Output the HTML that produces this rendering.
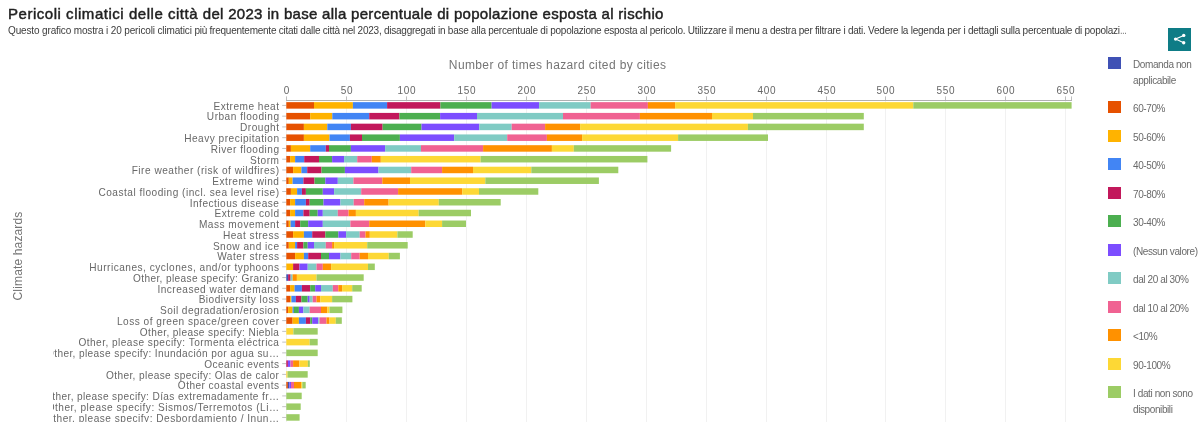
<!DOCTYPE html>
<html lang="it"><head><meta charset="utf-8"><title>Pericoli climatici delle città del 2023</title>
<style>
html,body{margin:0;padding:0;background:#fff;}
body{width:1200px;height:422px;position:relative;overflow:hidden;font-family:"Liberation Sans",sans-serif;}
h1{position:absolute;left:8px;top:5.3px;margin:0;font-size:15px;line-height:18px;font-weight:normal;color:#212121;-webkit-text-stroke:0.45px #212121;white-space:nowrap;letter-spacing:0.295px;}
p.sub{position:absolute;left:8px;top:24.5px;margin:0;font-size:10px;line-height:12px;color:#3c3c3c;white-space:nowrap;letter-spacing:-0.244px;}
.share{position:absolute;left:1168.2px;top:28px;width:23px;height:23px;background:#0e7c86;}
.share svg{position:absolute;left:0;top:0;}
svg.chart{position:absolute;left:0;top:0;}
svg.chart text{font-family:"Liberation Sans",sans-serif;}
.tk text{font-size:10px;fill:#666;letter-spacing:0.7px;}
.at{font-size:12px;fill:#757575;letter-spacing:0.37px;}
.yl text{font-size:10.1px;fill:#686868;letter-spacing:0.5px;}
.legend{position:absolute;left:0;top:0;}
.li{position:absolute;left:1108px;width:92px;}
.sw{position:absolute;left:0;top:0;width:13px;height:12px;}
.lt{position:absolute;left:25px;top:-0.2px;font-size:10px;line-height:16px;color:#6a6a6a;white-space:nowrap;letter-spacing:-0.4px;}
</style></head><body>
<h1><span style="letter-spacing:0.53px">Pericoli climatici delle città </span>del 2023 in base alla percentuale di popolazione esposta al rischio</h1>
<p class="sub"><span style="letter-spacing:-0.14px">Questo grafico mostra i 20 pericoli climatici </span>più frequentemente citati dalle città nel 2023, disaggregati in base alla percentuale di popolazione esposta al pericolo. Utilizzare il menu a destra per filtrare i dati. Vedere la legenda per i dettagli sulla percentuale di popolazi<span style="display:inline-block;transform:scaleX(0.65);transform-origin:0 50%">…</span></p>
<svg class="chart" width="1200" height="422" viewBox="0 0 1200 422">
<defs><clipPath id="lc"><rect x="53" y="96" width="240" height="326"/></clipPath></defs>
<g stroke="#f1f1f1" stroke-width="1">
<line x1="286.5" y1="100.5" x2="286.5" y2="422"/>
<line x1="346.5" y1="100.5" x2="346.5" y2="422"/>
<line x1="406.5" y1="100.5" x2="406.5" y2="422"/>
<line x1="466.5" y1="100.5" x2="466.5" y2="422"/>
<line x1="526.5" y1="100.5" x2="526.5" y2="422"/>
<line x1="586.5" y1="100.5" x2="586.5" y2="422"/>
<line x1="646.5" y1="100.5" x2="646.5" y2="422"/>
<line x1="706.5" y1="100.5" x2="706.5" y2="422"/>
<line x1="766.5" y1="100.5" x2="766.5" y2="422"/>
<line x1="826.5" y1="100.5" x2="826.5" y2="422"/>
<line x1="885.5" y1="100.5" x2="885.5" y2="422"/>
<line x1="945.5" y1="100.5" x2="945.5" y2="422"/>
<line x1="1005.5" y1="100.5" x2="1005.5" y2="422"/>
<line x1="1065.5" y1="100.5" x2="1065.5" y2="422"/>
</g>
<g stroke="#b0b0b0" stroke-width="1">
<line x1="286" y1="100.5" x2="1072" y2="100.5"/>
<line x1="286.5" y1="96.4" x2="286.5" y2="100" stroke="#bdbdbd"/>
<line x1="346.5" y1="96.4" x2="346.5" y2="100" stroke="#bdbdbd"/>
<line x1="406.5" y1="96.4" x2="406.5" y2="100" stroke="#bdbdbd"/>
<line x1="466.5" y1="96.4" x2="466.5" y2="100" stroke="#bdbdbd"/>
<line x1="526.5" y1="96.4" x2="526.5" y2="100" stroke="#bdbdbd"/>
<line x1="586.5" y1="96.4" x2="586.5" y2="100" stroke="#bdbdbd"/>
<line x1="646.5" y1="96.4" x2="646.5" y2="100" stroke="#bdbdbd"/>
<line x1="706.5" y1="96.4" x2="706.5" y2="100" stroke="#bdbdbd"/>
<line x1="766.5" y1="96.4" x2="766.5" y2="100" stroke="#bdbdbd"/>
<line x1="826.5" y1="96.4" x2="826.5" y2="100" stroke="#bdbdbd"/>
<line x1="885.5" y1="96.4" x2="885.5" y2="100" stroke="#bdbdbd"/>
<line x1="945.5" y1="96.4" x2="945.5" y2="100" stroke="#bdbdbd"/>
<line x1="1005.5" y1="96.4" x2="1005.5" y2="100" stroke="#bdbdbd"/>
<line x1="1065.5" y1="96.4" x2="1065.5" y2="100" stroke="#bdbdbd"/>
<line x1="1071.5" y1="96.4" x2="1071.5" y2="100" stroke="#bdbdbd"/>
</g>
<g class="tk" text-anchor="middle">
<text x="286.9" y="93.6">0</text>
<text x="346.9" y="93.6">50</text>
<text x="406.9" y="93.6">100</text>
<text x="466.9" y="93.6">150</text>
<text x="526.9" y="93.6">200</text>
<text x="586.9" y="93.6">250</text>
<text x="646.9" y="93.6">300</text>
<text x="706.9" y="93.6">350</text>
<text x="766.9" y="93.6">400</text>
<text x="826.9" y="93.6">450</text>
<text x="885.9" y="93.6">500</text>
<text x="945.9" y="93.6">550</text>
<text x="1005.9" y="93.6">600</text>
<text x="1065.8" y="93.6">650</text>
</g>
<text class="at" x="557.6" y="69" text-anchor="middle">Number of times hazard cited by cities</text>
<text class="at" style="letter-spacing:0.15px" transform="translate(22,256) rotate(-90)" text-anchor="middle">Climate hazards</text>
<g stroke="#c2c2c2" stroke-width="1">
<line x1="282.2" y1="105.40" x2="286.3" y2="105.40"/>
<line x1="282.2" y1="116.16" x2="286.3" y2="116.16"/>
<line x1="282.2" y1="126.92" x2="286.3" y2="126.92"/>
<line x1="282.2" y1="137.68" x2="286.3" y2="137.68"/>
<line x1="282.2" y1="148.44" x2="286.3" y2="148.44"/>
<line x1="282.2" y1="159.20" x2="286.3" y2="159.20"/>
<line x1="282.2" y1="169.96" x2="286.3" y2="169.96"/>
<line x1="282.2" y1="180.72" x2="286.3" y2="180.72"/>
<line x1="282.2" y1="191.48" x2="286.3" y2="191.48"/>
<line x1="282.2" y1="202.24" x2="286.3" y2="202.24"/>
<line x1="282.2" y1="213.00" x2="286.3" y2="213.00"/>
<line x1="282.2" y1="223.76" x2="286.3" y2="223.76"/>
<line x1="282.2" y1="234.52" x2="286.3" y2="234.52"/>
<line x1="282.2" y1="245.28" x2="286.3" y2="245.28"/>
<line x1="282.2" y1="256.04" x2="286.3" y2="256.04"/>
<line x1="282.2" y1="266.80" x2="286.3" y2="266.80"/>
<line x1="282.2" y1="277.56" x2="286.3" y2="277.56"/>
<line x1="282.2" y1="288.32" x2="286.3" y2="288.32"/>
<line x1="282.2" y1="299.08" x2="286.3" y2="299.08"/>
<line x1="282.2" y1="309.84" x2="286.3" y2="309.84"/>
<line x1="282.2" y1="320.60" x2="286.3" y2="320.60"/>
<line x1="282.2" y1="331.36" x2="286.3" y2="331.36"/>
<line x1="282.2" y1="342.12" x2="286.3" y2="342.12"/>
<line x1="282.2" y1="352.88" x2="286.3" y2="352.88"/>
<line x1="282.2" y1="363.64" x2="286.3" y2="363.64"/>
<line x1="282.2" y1="374.40" x2="286.3" y2="374.40"/>
<line x1="282.2" y1="385.16" x2="286.3" y2="385.16"/>
<line x1="282.2" y1="395.92" x2="286.3" y2="395.92"/>
<line x1="282.2" y1="406.68" x2="286.3" y2="406.68"/>
<line x1="282.2" y1="417.44" x2="286.3" y2="417.44"/>
</g>
<g>
<rect x="286.3" y="102.15" width="27.7" height="6.5" fill="#e65100"/>
<rect x="314.0" y="102.15" width="38.9" height="6.5" fill="#ffb300"/>
<rect x="352.9" y="102.15" width="34.2" height="6.5" fill="#4285f4"/>
<rect x="387.1" y="102.15" width="53.3" height="6.5" fill="#c2185b"/>
<rect x="440.4" y="102.15" width="51.2" height="6.5" fill="#4caf50"/>
<rect x="491.6" y="102.15" width="47.5" height="6.5" fill="#7c4dff"/>
<rect x="539.1" y="102.15" width="51.6" height="6.5" fill="#80cbc4"/>
<rect x="590.7" y="102.15" width="57.2" height="6.5" fill="#f06292"/>
<rect x="647.9" y="102.15" width="27.2" height="6.5" fill="#ff9100"/>
<rect x="675.1" y="102.15" width="238.2" height="6.5" fill="#fdd835"/>
<rect x="913.3" y="102.15" width="158.3" height="6.5" fill="#9ccc65"/>
<rect x="286.3" y="112.91" width="23.9" height="6.5" fill="#e65100"/>
<rect x="310.2" y="112.91" width="22.1" height="6.5" fill="#ffb300"/>
<rect x="332.3" y="112.91" width="36.9" height="6.5" fill="#4285f4"/>
<rect x="369.2" y="112.91" width="30.2" height="6.5" fill="#c2185b"/>
<rect x="399.4" y="112.91" width="40.7" height="6.5" fill="#4caf50"/>
<rect x="440.1" y="112.91" width="36.9" height="6.5" fill="#7c4dff"/>
<rect x="477.0" y="112.91" width="86.0" height="6.5" fill="#80cbc4"/>
<rect x="563.0" y="112.91" width="76.9" height="6.5" fill="#f06292"/>
<rect x="639.9" y="112.91" width="72.1" height="6.5" fill="#ff9100"/>
<rect x="712.0" y="112.91" width="41.0" height="6.5" fill="#fdd835"/>
<rect x="753.0" y="112.91" width="110.8" height="6.5" fill="#9ccc65"/>
<rect x="286.3" y="123.67" width="17.6" height="6.5" fill="#e65100"/>
<rect x="303.9" y="123.67" width="23.4" height="6.5" fill="#ffb300"/>
<rect x="327.3" y="123.67" width="23.6" height="6.5" fill="#4285f4"/>
<rect x="350.9" y="123.67" width="31.7" height="6.5" fill="#c2185b"/>
<rect x="382.6" y="123.67" width="38.9" height="6.5" fill="#4caf50"/>
<rect x="421.5" y="123.67" width="57.8" height="6.5" fill="#7c4dff"/>
<rect x="479.3" y="123.67" width="32.4" height="6.5" fill="#80cbc4"/>
<rect x="511.7" y="123.67" width="33.4" height="6.5" fill="#f06292"/>
<rect x="545.1" y="123.67" width="35.0" height="6.5" fill="#ff9100"/>
<rect x="580.1" y="123.67" width="167.8" height="6.5" fill="#fdd835"/>
<rect x="747.9" y="123.67" width="115.9" height="6.5" fill="#9ccc65"/>
<rect x="286.3" y="134.43" width="17.6" height="6.5" fill="#e65100"/>
<rect x="303.9" y="134.43" width="25.6" height="6.5" fill="#ffb300"/>
<rect x="329.5" y="134.43" width="20.4" height="6.5" fill="#4285f4"/>
<rect x="349.9" y="134.43" width="12.1" height="6.5" fill="#c2185b"/>
<rect x="362.0" y="134.43" width="37.9" height="6.5" fill="#4caf50"/>
<rect x="399.9" y="134.43" width="54.3" height="6.5" fill="#7c4dff"/>
<rect x="454.2" y="134.43" width="53.0" height="6.5" fill="#80cbc4"/>
<rect x="507.2" y="134.43" width="39.7" height="6.5" fill="#f06292"/>
<rect x="546.9" y="134.43" width="35.2" height="6.5" fill="#ff9100"/>
<rect x="582.1" y="134.43" width="96.0" height="6.5" fill="#fdd835"/>
<rect x="678.1" y="134.43" width="89.9" height="6.5" fill="#9ccc65"/>
<rect x="286.3" y="145.19" width="4.6" height="6.5" fill="#e65100"/>
<rect x="290.9" y="145.19" width="19.3" height="6.5" fill="#ffb300"/>
<rect x="310.2" y="145.19" width="15.6" height="6.5" fill="#4285f4"/>
<rect x="325.8" y="145.19" width="3.2" height="6.5" fill="#c2185b"/>
<rect x="329.0" y="145.19" width="21.9" height="6.5" fill="#4caf50"/>
<rect x="350.9" y="145.19" width="34.2" height="6.5" fill="#7c4dff"/>
<rect x="385.1" y="145.19" width="35.9" height="6.5" fill="#80cbc4"/>
<rect x="421.0" y="145.19" width="62.1" height="6.5" fill="#f06292"/>
<rect x="483.1" y="145.19" width="68.8" height="6.5" fill="#ff9100"/>
<rect x="551.9" y="145.19" width="21.9" height="6.5" fill="#fdd835"/>
<rect x="573.8" y="145.19" width="97.3" height="6.5" fill="#9ccc65"/>
<rect x="286.3" y="155.95" width="3.8" height="6.5" fill="#e65100"/>
<rect x="290.1" y="155.95" width="5.0" height="6.5" fill="#ffb300"/>
<rect x="295.1" y="155.95" width="9.1" height="6.5" fill="#4285f4"/>
<rect x="304.2" y="155.95" width="14.8" height="6.5" fill="#c2185b"/>
<rect x="319.0" y="155.95" width="13.1" height="6.5" fill="#4caf50"/>
<rect x="332.1" y="155.95" width="12.0" height="6.5" fill="#7c4dff"/>
<rect x="344.1" y="155.95" width="13.1" height="6.5" fill="#80cbc4"/>
<rect x="357.2" y="155.95" width="14.6" height="6.5" fill="#f06292"/>
<rect x="371.8" y="155.95" width="9.0" height="6.5" fill="#ff9100"/>
<rect x="380.8" y="155.95" width="99.8" height="6.5" fill="#fdd835"/>
<rect x="480.6" y="155.95" width="166.8" height="6.5" fill="#9ccc65"/>
<rect x="286.3" y="166.71" width="6.8" height="6.5" fill="#e65100"/>
<rect x="293.1" y="166.71" width="8.3" height="6.5" fill="#ffb300"/>
<rect x="301.4" y="166.71" width="5.8" height="6.5" fill="#4285f4"/>
<rect x="307.2" y="166.71" width="14.3" height="6.5" fill="#c2185b"/>
<rect x="321.5" y="166.71" width="23.4" height="6.5" fill="#4caf50"/>
<rect x="344.9" y="166.71" width="33.6" height="6.5" fill="#7c4dff"/>
<rect x="378.5" y="166.71" width="32.7" height="6.5" fill="#80cbc4"/>
<rect x="411.2" y="166.71" width="30.9" height="6.5" fill="#f06292"/>
<rect x="442.1" y="166.71" width="30.9" height="6.5" fill="#ff9100"/>
<rect x="473.0" y="166.71" width="58.3" height="6.5" fill="#fdd835"/>
<rect x="531.3" y="166.71" width="87.0" height="6.5" fill="#9ccc65"/>
<rect x="286.3" y="177.47" width="2.5" height="6.5" fill="#e65100"/>
<rect x="288.8" y="177.47" width="3.8" height="6.5" fill="#ffb300"/>
<rect x="292.6" y="177.47" width="10.8" height="6.5" fill="#4285f4"/>
<rect x="303.4" y="177.47" width="11.1" height="6.5" fill="#c2185b"/>
<rect x="314.5" y="177.47" width="10.8" height="6.5" fill="#4caf50"/>
<rect x="325.3" y="177.47" width="12.5" height="6.5" fill="#7c4dff"/>
<rect x="337.8" y="177.47" width="15.6" height="6.5" fill="#80cbc4"/>
<rect x="353.4" y="177.47" width="28.9" height="6.5" fill="#f06292"/>
<rect x="382.3" y="177.47" width="27.7" height="6.5" fill="#ff9100"/>
<rect x="410.0" y="177.47" width="75.3" height="6.5" fill="#fdd835"/>
<rect x="485.3" y="177.47" width="113.6" height="6.5" fill="#9ccc65"/>
<rect x="286.3" y="188.23" width="4.6" height="6.5" fill="#e65100"/>
<rect x="290.9" y="188.23" width="6.2" height="6.5" fill="#ffb300"/>
<rect x="297.1" y="188.23" width="4.8" height="6.5" fill="#4285f4"/>
<rect x="301.9" y="188.23" width="4.0" height="6.5" fill="#c2185b"/>
<rect x="305.9" y="188.23" width="16.9" height="6.5" fill="#4caf50"/>
<rect x="322.8" y="188.23" width="11.3" height="6.5" fill="#7c4dff"/>
<rect x="334.1" y="188.23" width="27.1" height="6.5" fill="#80cbc4"/>
<rect x="361.2" y="188.23" width="36.9" height="6.5" fill="#f06292"/>
<rect x="398.1" y="188.23" width="64.1" height="6.5" fill="#ff9100"/>
<rect x="462.2" y="188.23" width="16.8" height="6.5" fill="#fdd835"/>
<rect x="479.0" y="188.23" width="59.3" height="6.5" fill="#9ccc65"/>
<rect x="286.3" y="198.99" width="3.8" height="6.5" fill="#e65100"/>
<rect x="290.1" y="198.99" width="5.0" height="6.5" fill="#ffb300"/>
<rect x="295.1" y="198.99" width="10.8" height="6.5" fill="#4285f4"/>
<rect x="305.9" y="198.99" width="3.8" height="6.5" fill="#c2185b"/>
<rect x="309.7" y="198.99" width="13.8" height="6.5" fill="#4caf50"/>
<rect x="323.5" y="198.99" width="16.9" height="6.5" fill="#7c4dff"/>
<rect x="340.4" y="198.99" width="13.3" height="6.5" fill="#80cbc4"/>
<rect x="353.7" y="198.99" width="10.5" height="6.5" fill="#f06292"/>
<rect x="364.2" y="198.99" width="24.4" height="6.5" fill="#ff9100"/>
<rect x="388.6" y="198.99" width="50.2" height="6.5" fill="#fdd835"/>
<rect x="438.8" y="198.99" width="61.9" height="6.5" fill="#9ccc65"/>
<rect x="286.3" y="209.75" width="3.8" height="6.5" fill="#e65100"/>
<rect x="290.1" y="209.75" width="5.0" height="6.5" fill="#ffb300"/>
<rect x="295.1" y="209.75" width="8.3" height="6.5" fill="#4285f4"/>
<rect x="303.4" y="209.75" width="6.3" height="6.5" fill="#c2185b"/>
<rect x="309.7" y="209.75" width="8.0" height="6.5" fill="#4caf50"/>
<rect x="317.7" y="209.75" width="5.1" height="6.5" fill="#7c4dff"/>
<rect x="322.8" y="209.75" width="15.0" height="6.5" fill="#80cbc4"/>
<rect x="337.8" y="209.75" width="10.8" height="6.5" fill="#f06292"/>
<rect x="348.6" y="209.75" width="7.3" height="6.5" fill="#ff9100"/>
<rect x="355.9" y="209.75" width="62.8" height="6.5" fill="#fdd835"/>
<rect x="418.7" y="209.75" width="52.3" height="6.5" fill="#9ccc65"/>
<rect x="286.3" y="220.51" width="2.5" height="6.5" fill="#e65100"/>
<rect x="288.8" y="220.51" width="1.8" height="6.5" fill="#ffb300"/>
<rect x="290.6" y="220.51" width="4.5" height="6.5" fill="#4285f4"/>
<rect x="295.1" y="220.51" width="5.1" height="6.5" fill="#c2185b"/>
<rect x="300.2" y="220.51" width="8.0" height="6.5" fill="#4caf50"/>
<rect x="308.2" y="220.51" width="14.6" height="6.5" fill="#7c4dff"/>
<rect x="322.8" y="220.51" width="27.6" height="6.5" fill="#80cbc4"/>
<rect x="350.4" y="220.51" width="18.8" height="6.5" fill="#f06292"/>
<rect x="369.2" y="220.51" width="56.1" height="6.5" fill="#ff9100"/>
<rect x="425.3" y="220.51" width="16.8" height="6.5" fill="#fdd835"/>
<rect x="442.1" y="220.51" width="23.9" height="6.5" fill="#9ccc65"/>
<rect x="286.3" y="231.27" width="6.8" height="6.5" fill="#e65100"/>
<rect x="293.1" y="231.27" width="10.8" height="6.5" fill="#ffb300"/>
<rect x="303.9" y="231.27" width="8.3" height="6.5" fill="#4285f4"/>
<rect x="312.2" y="231.27" width="13.1" height="6.5" fill="#c2185b"/>
<rect x="325.3" y="231.27" width="13.1" height="6.5" fill="#4caf50"/>
<rect x="338.4" y="231.27" width="7.7" height="6.5" fill="#7c4dff"/>
<rect x="346.1" y="231.27" width="13.6" height="6.5" fill="#80cbc4"/>
<rect x="359.7" y="231.27" width="5.8" height="6.5" fill="#f06292"/>
<rect x="365.5" y="231.27" width="4.3" height="6.5" fill="#ff9100"/>
<rect x="369.8" y="231.27" width="27.6" height="6.5" fill="#fdd835"/>
<rect x="397.4" y="231.27" width="15.3" height="6.5" fill="#9ccc65"/>
<rect x="286.3" y="242.03" width="2.5" height="6.5" fill="#e65100"/>
<rect x="288.8" y="242.03" width="6.3" height="6.5" fill="#ffb300"/>
<rect x="295.1" y="242.03" width="2.0" height="6.5" fill="#4285f4"/>
<rect x="297.1" y="242.03" width="6.3" height="6.5" fill="#c2185b"/>
<rect x="303.4" y="242.03" width="4.3" height="6.5" fill="#4caf50"/>
<rect x="307.7" y="242.03" width="6.3" height="6.5" fill="#7c4dff"/>
<rect x="314.0" y="242.03" width="11.8" height="6.5" fill="#80cbc4"/>
<rect x="325.8" y="242.03" width="6.3" height="6.5" fill="#f06292"/>
<rect x="332.1" y="242.03" width="2.0" height="6.5" fill="#ff9100"/>
<rect x="334.1" y="242.03" width="33.1" height="6.5" fill="#fdd835"/>
<rect x="367.2" y="242.03" width="40.5" height="6.5" fill="#9ccc65"/>
<rect x="286.3" y="252.79" width="8.8" height="6.5" fill="#e65100"/>
<rect x="295.1" y="252.79" width="8.8" height="6.5" fill="#ffb300"/>
<rect x="303.9" y="252.79" width="4.3" height="6.5" fill="#4285f4"/>
<rect x="308.2" y="252.79" width="12.8" height="6.5" fill="#c2185b"/>
<rect x="321.0" y="252.79" width="8.0" height="6.5" fill="#4caf50"/>
<rect x="329.0" y="252.79" width="11.4" height="6.5" fill="#7c4dff"/>
<rect x="340.4" y="252.79" width="10.8" height="6.5" fill="#80cbc4"/>
<rect x="351.2" y="252.79" width="8.5" height="6.5" fill="#f06292"/>
<rect x="359.7" y="252.79" width="8.3" height="6.5" fill="#ff9100"/>
<rect x="368.0" y="252.79" width="20.8" height="6.5" fill="#fdd835"/>
<rect x="388.8" y="252.79" width="11.1" height="6.5" fill="#9ccc65"/>
<rect x="286.3" y="263.55" width="6.8" height="6.5" fill="#ffb300"/>
<rect x="293.1" y="263.55" width="6.3" height="6.5" fill="#c2185b"/>
<rect x="299.4" y="263.55" width="8.3" height="6.5" fill="#7c4dff"/>
<rect x="307.7" y="263.55" width="8.8" height="6.5" fill="#80cbc4"/>
<rect x="316.5" y="263.55" width="6.3" height="6.5" fill="#f06292"/>
<rect x="322.8" y="263.55" width="8.3" height="6.5" fill="#ff9100"/>
<rect x="331.1" y="263.55" width="36.9" height="6.5" fill="#fdd835"/>
<rect x="368.0" y="263.55" width="6.8" height="6.5" fill="#9ccc65"/>
<rect x="286.3" y="274.31" width="1.8" height="6.5" fill="#3f51b5"/>
<rect x="288.1" y="274.31" width="2.5" height="6.5" fill="#c2185b"/>
<rect x="290.6" y="274.31" width="2.0" height="6.5" fill="#80cbc4"/>
<rect x="292.6" y="274.31" width="4.3" height="6.5" fill="#ff9100"/>
<rect x="296.9" y="274.31" width="19.6" height="6.5" fill="#fdd835"/>
<rect x="316.5" y="274.31" width="47.2" height="6.5" fill="#9ccc65"/>
<rect x="286.3" y="285.07" width="3.8" height="6.5" fill="#e65100"/>
<rect x="290.1" y="285.07" width="4.5" height="6.5" fill="#ffb300"/>
<rect x="294.6" y="285.07" width="7.3" height="6.5" fill="#4285f4"/>
<rect x="301.9" y="285.07" width="8.3" height="6.5" fill="#c2185b"/>
<rect x="310.2" y="285.07" width="5.0" height="6.5" fill="#4caf50"/>
<rect x="315.2" y="285.07" width="5.8" height="6.5" fill="#7c4dff"/>
<rect x="321.0" y="285.07" width="11.8" height="6.5" fill="#80cbc4"/>
<rect x="332.8" y="285.07" width="5.5" height="6.5" fill="#f06292"/>
<rect x="338.3" y="285.07" width="3.8" height="6.5" fill="#ff9100"/>
<rect x="342.1" y="285.07" width="10.1" height="6.5" fill="#fdd835"/>
<rect x="352.2" y="285.07" width="9.5" height="6.5" fill="#9ccc65"/>
<rect x="286.3" y="295.83" width="3.8" height="6.5" fill="#e65100"/>
<rect x="290.1" y="295.83" width="1.3" height="6.5" fill="#ffb300"/>
<rect x="291.4" y="295.83" width="4.5" height="6.5" fill="#4285f4"/>
<rect x="295.9" y="295.83" width="5.5" height="6.5" fill="#c2185b"/>
<rect x="301.4" y="295.83" width="6.3" height="6.5" fill="#4caf50"/>
<rect x="307.7" y="295.83" width="2.0" height="6.5" fill="#7c4dff"/>
<rect x="309.7" y="295.83" width="3.0" height="6.5" fill="#80cbc4"/>
<rect x="312.7" y="295.83" width="3.8" height="6.5" fill="#f06292"/>
<rect x="316.5" y="295.83" width="3.8" height="6.5" fill="#ff9100"/>
<rect x="320.3" y="295.83" width="11.8" height="6.5" fill="#fdd835"/>
<rect x="332.1" y="295.83" width="20.3" height="6.5" fill="#9ccc65"/>
<rect x="286.3" y="306.59" width="1.8" height="6.5" fill="#e65100"/>
<rect x="288.1" y="306.59" width="4.5" height="6.5" fill="#ffb300"/>
<rect x="292.6" y="306.59" width="1.3" height="6.5" fill="#4285f4"/>
<rect x="293.9" y="306.59" width="5.0" height="6.5" fill="#4caf50"/>
<rect x="298.9" y="306.59" width="4.5" height="6.5" fill="#7c4dff"/>
<rect x="303.4" y="306.59" width="6.3" height="6.5" fill="#80cbc4"/>
<rect x="309.7" y="306.59" width="11.3" height="6.5" fill="#f06292"/>
<rect x="321.0" y="306.59" width="6.3" height="6.5" fill="#ff9100"/>
<rect x="327.3" y="306.59" width="2.2" height="6.5" fill="#fdd835"/>
<rect x="329.5" y="306.59" width="12.9" height="6.5" fill="#9ccc65"/>
<rect x="286.3" y="317.35" width="6.3" height="6.5" fill="#e65100"/>
<rect x="292.6" y="317.35" width="6.3" height="6.5" fill="#ffb300"/>
<rect x="298.9" y="317.35" width="7.0" height="6.5" fill="#4285f4"/>
<rect x="305.9" y="317.35" width="4.3" height="6.5" fill="#c2185b"/>
<rect x="310.2" y="317.35" width="2.0" height="6.5" fill="#4caf50"/>
<rect x="312.2" y="317.35" width="6.0" height="6.5" fill="#7c4dff"/>
<rect x="318.2" y="317.35" width="1.3" height="6.5" fill="#80cbc4"/>
<rect x="319.5" y="317.35" width="7.0" height="6.5" fill="#f06292"/>
<rect x="326.5" y="317.35" width="3.0" height="6.5" fill="#ff9100"/>
<rect x="329.5" y="317.35" width="6.3" height="6.5" fill="#fdd835"/>
<rect x="335.8" y="317.35" width="6.0" height="6.5" fill="#9ccc65"/>
<rect x="286.3" y="328.11" width="7.1" height="6.5" fill="#fdd835"/>
<rect x="293.4" y="328.11" width="24.3" height="6.5" fill="#9ccc65"/>
<rect x="286.3" y="338.87" width="23.4" height="6.5" fill="#fdd835"/>
<rect x="309.7" y="338.87" width="8.0" height="6.5" fill="#9ccc65"/>
<rect x="286.3" y="349.63" width="31.4" height="6.5" fill="#9ccc65"/>
<rect x="286.3" y="360.39" width="1.6" height="6.5" fill="#c2185b"/>
<rect x="287.9" y="360.39" width="2.6" height="6.5" fill="#7c4dff"/>
<rect x="290.5" y="360.39" width="2.6" height="6.5" fill="#f06292"/>
<rect x="293.1" y="360.39" width="6.3" height="6.5" fill="#ff9100"/>
<rect x="299.4" y="360.39" width="8.5" height="6.5" fill="#fdd835"/>
<rect x="307.9" y="360.39" width="1.9" height="6.5" fill="#9ccc65"/>
<rect x="286.3" y="371.15" width="1.3" height="6.5" fill="#fdd835"/>
<rect x="287.6" y="371.15" width="20.1" height="6.5" fill="#9ccc65"/>
<rect x="286.3" y="381.91" width="1.6" height="6.5" fill="#e65100"/>
<rect x="287.9" y="381.91" width="1.5" height="6.5" fill="#3f51b5"/>
<rect x="289.4" y="381.91" width="1.6" height="6.5" fill="#7c4dff"/>
<rect x="291.0" y="381.91" width="3.0" height="6.5" fill="#f06292"/>
<rect x="294.0" y="381.91" width="7.1" height="6.5" fill="#ff9100"/>
<rect x="301.1" y="381.91" width="1.2" height="6.5" fill="#fdd835"/>
<rect x="302.3" y="381.91" width="3.4" height="6.5" fill="#9ccc65"/>
<rect x="286.3" y="392.67" width="15.4" height="6.5" fill="#9ccc65"/>
<rect x="286.3" y="403.43" width="14.4" height="6.5" fill="#9ccc65"/>
<rect x="286.3" y="414.19" width="13.3" height="6.5" fill="#9ccc65"/>
</g>
<g class="yl" text-anchor="end" clip-path="url(#lc)">
<text x="279.50" y="109.70">Extreme heat</text>
<text x="279.50" y="120.46">Urban flooding</text>
<text x="279.50" y="131.22">Drought</text>
<text x="279.50" y="141.98">Heavy precipitation</text>
<text x="279.50" y="152.74">River flooding</text>
<text x="279.50" y="163.50">Storm</text>
<text x="279.50" y="174.26">Fire weather (risk of wildfires)</text>
<text x="279.50" y="185.02">Extreme wind</text>
<text x="279.50" y="195.78">Coastal flooding (incl. sea level rise)</text>
<text x="279.50" y="206.54">Infectious disease</text>
<text x="279.50" y="217.30">Extreme cold</text>
<text x="279.50" y="228.06">Mass movement</text>
<text x="279.50" y="238.82">Heat stress</text>
<text x="279.50" y="249.58">Snow and ice</text>
<text x="279.50" y="260.34">Water stress</text>
<text x="279.50" y="271.10">Hurricanes, cyclones, and/or typhoons</text>
<text x="279.37" y="281.86" style="letter-spacing:0.37px">Other, please specify: Granizo</text>
<text x="279.50" y="292.62">Increased water demand</text>
<text x="279.50" y="303.38">Biodiversity loss</text>
<text x="279.44" y="314.14" style="letter-spacing:0.44px">Soil degradation/erosion</text>
<text x="279.50" y="324.90">Loss of green space/green cover</text>
<text x="279.38" y="335.66" style="letter-spacing:0.38px">Other, please specify: Niebla</text>
<text x="279.46" y="346.42" style="letter-spacing:0.46px">Other, please specify: Tormenta eléctrica</text>
<text x="279.39" y="357.18" style="letter-spacing:0.39px">Other, please specify: Inundación por agua su…</text>
<text x="279.39" y="367.94" style="letter-spacing:0.39px">Oceanic events</text>
<text x="279.39" y="378.70" style="letter-spacing:0.39px">Other, please specify: Olas de calor</text>
<text x="279.45" y="389.46" style="letter-spacing:0.45px">Other coastal events</text>
<text x="279.37" y="400.22" style="letter-spacing:0.37px">Other, please specify: Días extremadamente fr…</text>
<text x="279.50" y="410.98">Other, please specify: Sismos/Terremotos (Li…</text>
<text x="279.50" y="421.74">Other, please specify: Desbordamiento / Inun…</text>
</g>
</svg>
<div class="legend">
<div class="li" style="top:57.3px"><span class="sw" style="background:#3f51b5"></span><span class="lt">Domanda non<br>applicabile</span></div>
<div class="li" style="top:101.3px"><span class="sw" style="background:#e65100"></span><span class="lt">60-70%</span></div>
<div class="li" style="top:129.8px"><span class="sw" style="background:#ffb300"></span><span class="lt">50-60%</span></div>
<div class="li" style="top:158.3px"><span class="sw" style="background:#4285f4"></span><span class="lt">40-50%</span></div>
<div class="li" style="top:186.8px"><span class="sw" style="background:#c2185b"></span><span class="lt">70-80%</span></div>
<div class="li" style="top:215.3px"><span class="sw" style="background:#4caf50"></span><span class="lt">30-40%</span></div>
<div class="li" style="top:243.8px"><span class="sw" style="background:#7c4dff"></span><span class="lt">(Nessun valore)</span></div>
<div class="li" style="top:272.3px"><span class="sw" style="background:#80cbc4"></span><span class="lt">dal 20 al 30%</span></div>
<div class="li" style="top:300.8px"><span class="sw" style="background:#f06292"></span><span class="lt">dal 10 al 20%</span></div>
<div class="li" style="top:329.3px"><span class="sw" style="background:#ff9100"></span><span class="lt">&lt;10%</span></div>
<div class="li" style="top:357.8px"><span class="sw" style="background:#fdd835"></span><span class="lt">90-100%</span></div>
<div class="li" style="top:386.3px"><span class="sw" style="background:#9ccc65"></span><span class="lt">I dati non sono<br>disponibili</span></div>
</div>
<div class="share"><svg width="23" height="23" viewBox="0 0 23 23"><g stroke="#fff" stroke-width="1.1" fill="none"><line x1="7.6" y1="11.1" x2="15.7" y2="7.4"/><line x1="7.6" y1="11.1" x2="15.7" y2="14.7"/></g><g fill="#fff"><circle cx="7.6" cy="11.1" r="1.7"/><circle cx="15.7" cy="7.4" r="1.7"/><circle cx="15.7" cy="14.7" r="1.7"/></g></svg></div>
</body></html>
